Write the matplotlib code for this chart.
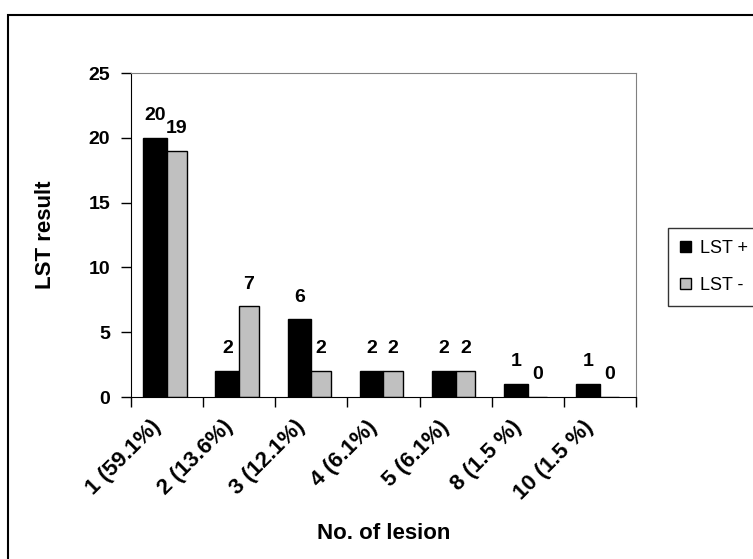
import numpy as np
import matplotlib
matplotlib.use("Agg")
import matplotlib.pyplot as plt
import matplotlib.patches as mpatches
import matplotlib.transforms as transforms

plt.rcParams['font.family'] = ['Liberation Sans', 'DejaVu Sans']

# data
categories = ['1 (59.1%)', '2 (13.6%)', '3 (12.1%)', '4 (6.1%)',
              '5 (6.1%)', '8 (1.5 %)', '10 (1.5 %)']
lst_pos = [20, 2, 6, 2, 2, 1, 1]
lst_neg = [19, 7, 2, 2, 2, 0, 0]

fig = plt.figure(figsize=(7.53, 5.59), dpi=100)
ax = fig.add_axes([131/753, 1 - 397/559, 505/753, 324/559])

x = np.arange(len(categories))
w_pos = 0.33
w_neg = 0.27
bars_pos = ax.bar(x - w_pos / 2, lst_pos, width=w_pos, color='black',
                  edgecolor='black', linewidth=1, label='LST +')
bars_neg = ax.bar(x + w_neg / 2, lst_neg, width=w_neg, color='#c0c0c0',
                  edgecolor='black', linewidth=1, label='LST -')

# value labels above bars
for bars in (bars_pos, bars_neg):
    for b in bars:
        h = b.get_height()
        ax.annotate(str(int(h)), (b.get_x() + b.get_width() / 2, h),
                    xytext=(0, 16), textcoords='offset points',
                    ha='center', va='center', fontsize=14, fontweight='bold')

ax.set_xlim(-0.5, len(categories) - 0.5)
ax.set_ylim(0, 25)
ax.set_yticks(range(0, 26, 5))

# labels at category centres, tick marks between categories
ax.set_xticks(x)
ax.set_xticklabels(categories, rotation=45, ha='right', va='top',
                   rotation_mode='anchor', fontsize=16, fontweight='bold')
ax.tick_params(axis='x', which='major', length=0, pad=14)
ax.set_xticks(np.arange(len(categories) + 1) - 0.5, minor=True)
ax.tick_params(axis='x', which='minor', length=7, width=1, direction='out')
shift = transforms.ScaledTranslation(-17 / 100, 0, fig.dpi_scale_trans)
for lbl in ax.get_xticklabels():
    lbl.set_transform(lbl.get_transform() + shift)

ax.tick_params(axis='y', length=7, width=1, direction='out', pad=8)
for lbl in ax.get_yticklabels():
    lbl.set_fontsize(14)
    lbl.set_fontweight('bold')

for s in ('top', 'right'):
    ax.spines[s].set_color('#808080')
for s in ('left', 'bottom'):
    ax.spines[s].set_color('black')

ax.set_ylabel('LST result', fontsize=16, fontweight='bold')
ax.yaxis.set_label_coords(-0.148, 0.5)
ax.set_xlabel('No. of lesion', fontsize=16, fontweight='bold')
ax.xaxis.set_label_coords(0.5, -0.39)

leg = fig.legend(handles=[bars_pos, bars_neg], loc='upper left',
                 bbox_to_anchor=(668 / 753, 1 - 228 / 559), borderaxespad=0,
                 fontsize=13, fancybox=False, edgecolor='black',
                 handlelength=0.6, handleheight=0.6, handletextpad=0.5,
                 labelspacing=1.12, borderpad=0.65)
leg.get_frame().set_linewidth(1)

# outer chart border
fig.patches.append(mpatches.Rectangle((8 / 753, -0.05), 1.0, 1 - 15 / 559 + 0.05,
                                      transform=fig.transFigure, fill=False,
                                      edgecolor='black', linewidth=1.5))

fig.savefig('out.png', dpi=100)
